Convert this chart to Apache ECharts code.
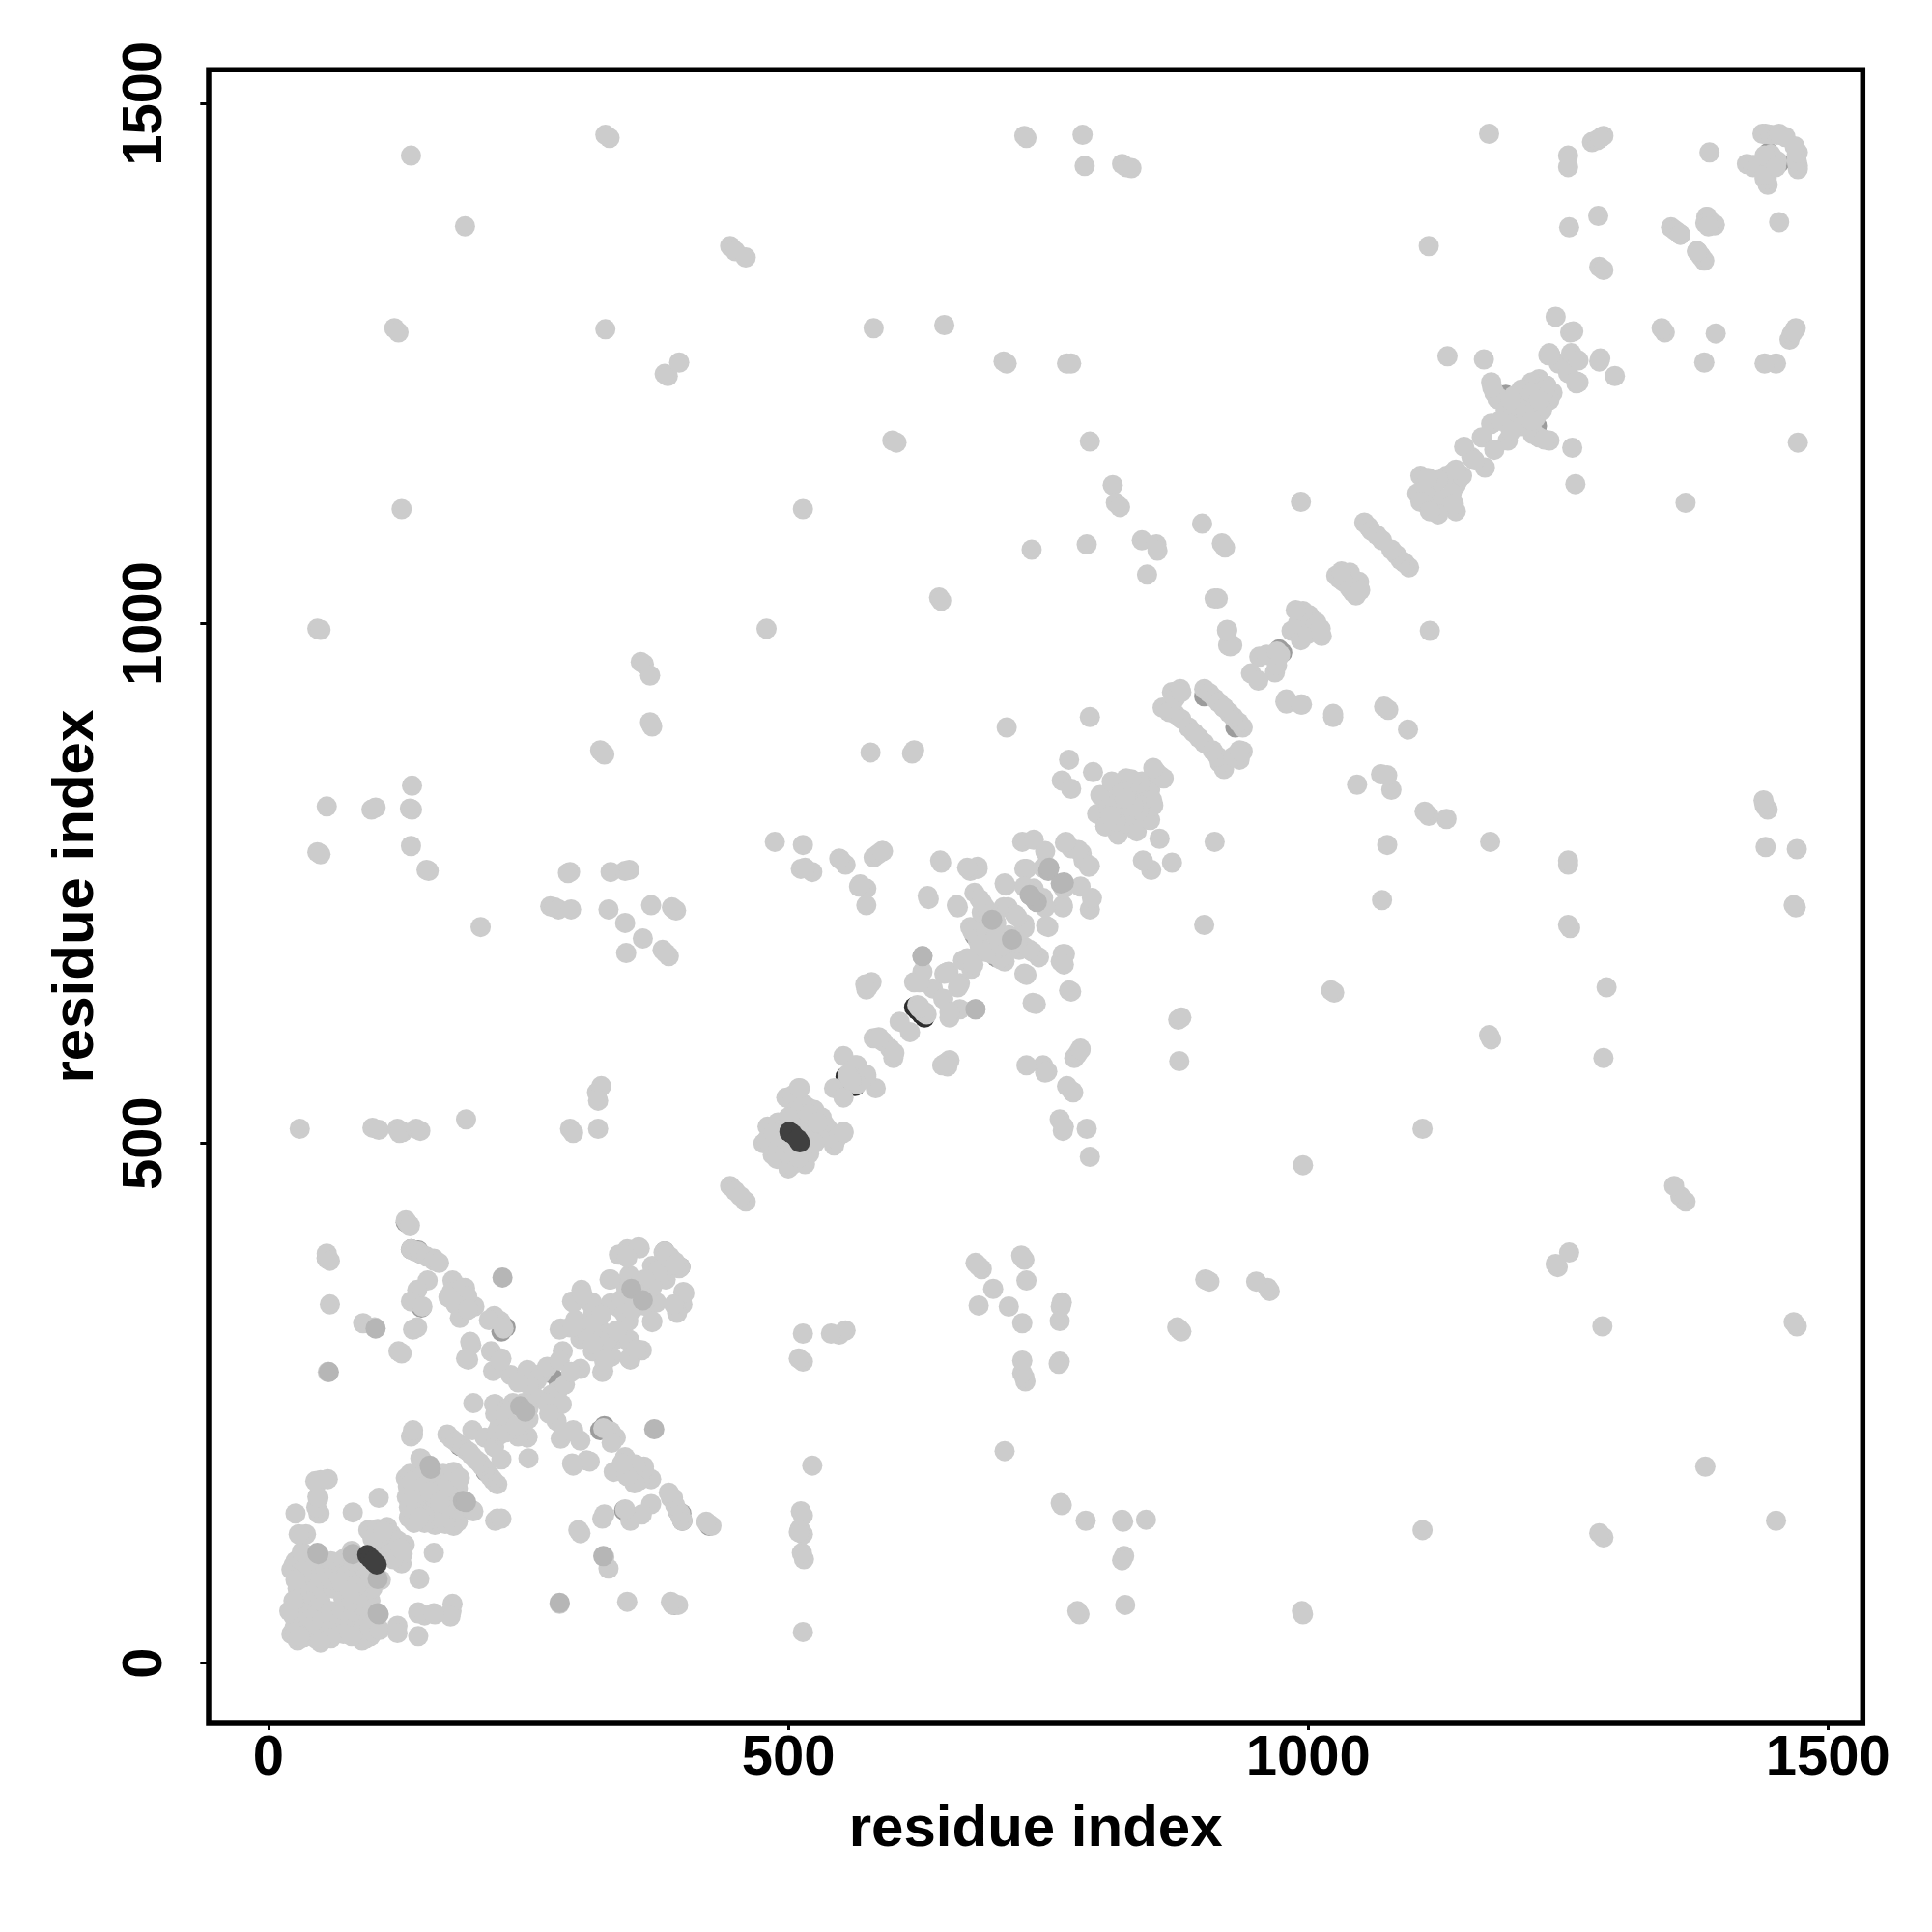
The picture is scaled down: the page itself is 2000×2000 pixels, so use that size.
<!DOCTYPE html>
<html><head><meta charset="utf-8">
<style>html,body{margin:0;padding:0;background:#fff}#c{width:2000px;height:2000px}</style>
<script src="https://cdn.jsdelivr.net/npm/echarts@6/dist/echarts.min.js"></script>
</head><body><div id="c"></div>
<script>
// Contact pairs; the map is symmetric, so each pair [i, j] (i < j) is also drawn as [j, i].
const tickValues = [0, 500, 1000, 1500];
const axisTitle = 'residue index';

const farContacts = [
[137,1450],[189,1382],[324,1470],[328,1467],[121,1284],[125,1280],[324,1283],[381,1240],[384,1238],[395,1251],[128,1110],[514,1110],
[47,995],[50,994],[56,824],[138,844],[138,821],[136,822],[103,823],[99,821],[137,786],[47,780],[50,778],[154,762],[152,763],[204,708],[190,523],
[30,514],[100,515],[106,513],[124,514],[129,511],[126,510],[142,514],[146,512],[290,514],[293,510],[317,514],[316,549],[320,555],[317,541],
[321,876],[323,874],[319,878],[368,903],[369,901],[367,905],[358,963],[361,961],[367,950],[479,995],[290,761],[288,760],[271,728],[275,727],[279,725],[291,725],
[327,725],[329,761],[343,762],[347,763],[343,712],[368,729],[388,727],[392,724],[390,725],[360,697],[344,683],[379,686],[385,680],[382,683],
[444,1363],[449,1358],[459,1352],[582,1284],[650,1287],[707,1252],[710,1250],[768,1250],[772,1250],[600,1176],[604,1174],[790,1175],
[727,1469],[729,1467],[783,1470],[785,1440],[821,1442],[825,1439],[830,1438],[1174,1471],[1250,1450],[1250,1439],[1273,1463],[1278,1465],[1284,1469],[1281,1467],
[1251,1381],[1279,1392],[1280,1343],[1284,1340],[1116,1363],[1386,1453],
[1349,1381],[1353,1378],[1357,1375],[1383,1391],[1391,1384],[1382,1385],[1374,1358],[1358,1374],
[1437,1471],[1440,1471],[1445,1470],[1451,1470],[1453,1471],[1459,1468],[1422,1442],[1428,1439],[1428,1441],[1432,1439],[1445,1451],[1439,1450],
[993,1117],[812,1133],[815,1116],[819,1112],[787,1076],[734,1071],[840,1080],[854,1076],[855,1070],[845,1047],[898,1096],[917,1077],[920,1073],
[910,1024],[922,994],[923,979],[927,979],[645,1025],[647,1022],[790,910],[710,900],[579,876],[619,875],
[1134,1257],[1169,1254],[1252,1280],[1238,1295],[1255,1281],[1231,1258]
];

const nTerminalBlock = [
[22,28],[25,34],[28,40],[24,45],[30,50],[35,38],[38,45],[42,52],[33,60],[28,62],[40,66],[45,72],[36,78],[32,85],[38,92],[45,96],
[50,60],[52,70],[50,82],[55,90],[60,98],[62,72],[60,80],[66,86],[70,92],[72,100],[78,96],[80,90],[85,93],[90,100],[75,85],[70,78],[82,98],
[26,98],[24,94],[22,90],[30,100],[35,97],[28,72],[26,80],[24,60],[20,50],[26,30],
[32,107],[36,124],[29,124],[26,144],[48,144],[47,160],[50,176],[57,177],[45,175],[81,145],[106,159],[80,108],
[49,144],[46,150],[48,159],[96,128],[105,129],[114,131],[102,112],[112,118],[118,124],[108,122],[100,120],[110,127],
[132,178],[136,182],[140,176],[134,170],[133,160],[135,150],[140,165],[148,182],[150,170],[147,158],[142,150],[158,180],[160,170],[158,160],
[168,182],[170,172],[178,184],[135,140],[140,145],[155,165],[147,196],[139,220],[137,218],[146,197],
[172,220],[176,216],[180,213],[184,210],[187,208],[190,205],[193,203],[196,199],[139,224],[196,224],[208,217],[217,249],[197,250],[223,220],[249,218],
[218,240],[225,235],[230,245],[235,250],[240,248],[222,228],[245,250],[228,238],[192,292],[195,306]
];

const centralCross = [
[233,277],[249,282],[258,272],[255,257],[262,278],[250,268],[268,285],[216,281],[224,293],[214,300],[223,291],[240,270],
[189,361],[177,368],[159,389],[144,396],[134,423],[56,389],[59,345],[91,327],[102,323],[125,300],[128,298],[57,280],
[137,398],[141,396],[146,394],[152,391],[159,387],[164,385],[132,426],[136,421],[56,394],[59,387],
[153,368],[143,359],[137,348],[148,343],[143,323],[139,321],[176,357],[187,361],[173,352],[184,332],
[223,329],[217,334],[212,330],[226,322],[194,309],[190,293],[198,343],[191,353],[180,345],[192,340],
[301,359],[292,348],[310,346],[328,369],[347,373],[280,321],[290,323],[305,318],[317,325],[283,300],[280,291],[300,312],[295,330],[312,335],
[345,398],[356,400],[337,393],[381,396],[386,391],[369,382],[344,361],[351,357],[329,346],[337,342],
[390,382],[395,380],[378,375],[383,391],[369,362],[358,352],[311,347],[293,347],[302,354],[329,369],[357,399],[345,390],[281,322],[293,324],[311,326],[307,312],[320,335],[340,350]
];

const middleDiagonal = [
[444,459],[449,454],
[487,790],[514,787],[512,764],[523,761],[550,773],[555,768],[582,775],[591,781],[586,778],[568,747],[575,745],[575,729],
[647,770],[675,762],[682,764],[635,735],[663,727],[709,748],[729,764],[725,790],[736,792],[747,781],[766,789],[772,784],[782,779],[790,767],
[770,869],[763,849],[772,841],[793,857],[800,835],[811,848],[825,851],[840,848],[818,835],[833,832],[797,817],[808,823],[847,838],[850,830],[815,825],[830,826],[825,838],[805,805],[815,810],[854,857],[861,851],
[727,764],[736,745],[747,764],[765,745],[727,747],[708,750],[682,766],[672,765],[646,772],[634,738],[662,729],[516,765],[549,774],[569,749],[590,781],[621,878],[574,653],
[679,741],[684,735],[689,727],[697,717],[700,712],[677,704],[675,708],[679,705],[682,696],[684,690],[686,722],[686,732],[693,720],[707,727],[711,727],[718,720],[690,705],[700,700],
[629,680],[629,665],[621,655],[639,649],[632,626],[654,665],[650,663],[652,664],[626,655],[668,676],[672,678],
[577,651],[580,655],[575,648],[607,617],[582,601],[591,598],[587,602],[553,584],[564,575],[566,575],[544,553],[498,544],[510,553],[514,538],[518,535],[525,532],[504,546],[511,553],[480,516],[476,500],[485,489],[479,503],[496,516],[490,520],[510,528],[503,520],
[490,500],[495,505],[505,530],[515,520],[500,525],[520,528],[486,510],[557,566],[561,560],[624,633],[630,626],[821,837],[832,824]
];

const cTerminalDiagonal = [
[1176,1232],[1179,1222],[1185,1216],[1198,1219],[1210,1222],[1207,1219],[1176,1192],[1195,1207],[1210,1213],[1182,1216],[1177,1227],[1191,1198],[1232,1260],[1241,1250],[1253,1260],[1229,1229],[1233,1258],
[1222,1235],[1215,1232],[1205,1225],[1190,1205],[1200,1210],[1225,1228],[1185,1195],[1195,1215],[1215,1222],
[1167,1179],[1150,1170],[1157,1160],[1133,1142],[1139,1145],[1148,1142],[1108,1142],[1112,1123],[1120,1130],[1125,1138],[1105,1125],[1115,1140],[1108,1117],
[1054,1097],[1058,1093],[1061,1089],[1066,1085],[1071,1080],[1027,1046],[1030,1043],[1040,1049],[1034,1040],[1032,1050],
[984,993],[990,1000],[1001,1008],[995,1012],[988,1013],[953,968],[945,952],[960,970],[970,973],[925,978],[922,993],[913,1024],
[900,937],[905,933],[910,928],[914,924],[919,919],[860,919],[866,915],[872,913],[878,908],[885,900],[890,895],[869,934],[877,937],[872,928],[878,934]
];

// standing out from the pale crowd, drawn above it
const midGreyContacts = [[47,106],[48,105],[81,105],[225,371],[242,247],[156,187],[155,190],[103,322],[58,280],[349,360],[732,739],[738,733],[750,762],[765,751],[696,715],[680,629]];
// buried under pale circles, visible as rims
const rimContacts = [[137,398],[146,394],[56,390],[132,424],[184,209],[224,319],[144,397],[147,342],[271,279],[347,365],[381,396],[679,700],[690,720],[1190,1220],[900,930],[868,917],[975,972],[228,323],[1443,1453]];
const rimDarkContacts = [[555,564],[559,558],[621,631],[628,624],[818,834],[829,821]];
const darkContacts = [[95,104],[98,101],[501,511],[504,509]];

const mirror = pairs => pairs.flatMap(([i, j]) => [[i, j], [j, i]]);
const lightContacts = [].concat(farContacts, nTerminalBlock, centralCross, middleDiagonal, cTerminalDiagonal);

const pointSeries = (pairs, color, z) => ({
  type: 'scatter', data: mirror(pairs), symbol: 'circle', symbolSize: 21, z,
  itemStyle: {color, opacity: 1, borderWidth: 0}, silent: true, animation: false
});

const sharedAxis = {
  type: 'value',
  splitLine: {show: false}, axisLine: {show: false, onZero: false},
  axisTick: {show: true, lineStyle: {color: '#000', width: 3}, customValues: tickValues},
  name: axisTitle, nameLocation: 'middle',
  nameTextStyle: {fontFamily: 'Liberation Sans', fontWeight: 'bold', fontSize: 60, color: '#000'}
};
const labelStyle = {fontFamily: 'Liberation Sans', fontWeight: 'bold', fontSize: 58, color: '#000', customValues: tickValues, formatter: v => String(v), showMinLabel: true, showMaxLabel: true};

const chart = echarts.init(document.getElementById('c'), null, {renderer: 'canvas'});
chart.setOption({
  animation: false, backgroundColor: '#fff',
  grid: {show: true, left: 216, top: 72.2, width: 1712.3, height: 1711.8, borderColor: '#000', borderWidth: 5.5, backgroundColor: 'transparent'},
  xAxis: Object.assign({}, sharedAxis, {min: -57.6, max: 1533.4, nameGap: 80,
    axisTick: Object.assign({}, sharedAxis.axisTick, {length: 7}),
    axisLabel: Object.assign({}, labelStyle, {margin: 8})}),
  yAxis: Object.assign({}, sharedAxis, {min: -57.9, max: 1532.6, nameGap: 107, nameRotate: 90,
    axisTick: Object.assign({}, sharedAxis.axisTick, {length: 8.7}),
    axisLabel: Object.assign({}, labelStyle, {rotate: 90, margin: 36})}),
  series: [
    pointSeries(rimDarkContacts, '#2e2e2e', 2),
    pointSeries(rimContacts, '#9c9c9c', 3),
    pointSeries(lightContacts, '#cccccc', 4),
    pointSeries(midGreyContacts, '#b6b6b6', 5),
    pointSeries(darkContacts, '#404040', 6)
  ]
});
</script></body></html>
